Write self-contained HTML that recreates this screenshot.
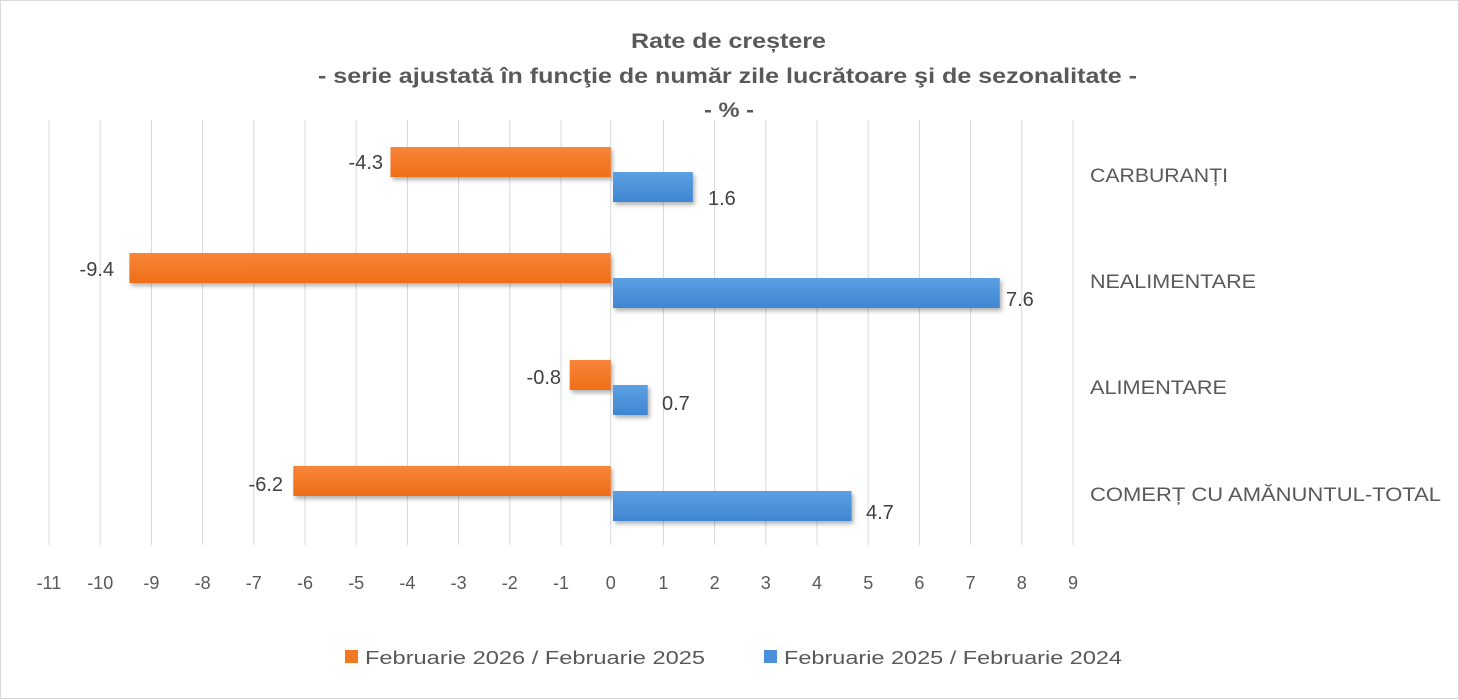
<!DOCTYPE html>
<html><head><meta charset="utf-8"><style>
html,body{margin:0;padding:0;background:#fff;}
svg{display:block;font-family:"Liberation Sans",sans-serif;}
</style></head><body>
<svg width="1459" height="700" viewBox="0 0 1459 700" xmlns="http://www.w3.org/2000/svg">
<defs>
<linearGradient id="og" x1="0" y1="0" x2="0" y2="1"><stop offset="0" stop-color="#F8853A"/><stop offset="1" stop-color="#EE6E16"/></linearGradient>
<linearGradient id="bg" x1="0" y1="0" x2="0" y2="1"><stop offset="0" stop-color="#5BA0E2"/><stop offset="1" stop-color="#3F86D2"/></linearGradient>
<filter id="sh" x="-5%" y="-30%" width="110%" height="170%"><feDropShadow dx="2" dy="3" stdDeviation="2" flood-color="#000" flood-opacity="0.3"/></filter>
</defs>
<rect x="0" y="0" width="1459" height="700" fill="#fff"/>
<rect x="0.5" y="0.5" width="1458" height="698" fill="none" stroke="#d9d9d9"/>
<g font-weight="bold" fill="#595959" font-size="21">
<text x="631" y="48" textLength="195" lengthAdjust="spacingAndGlyphs">Rate de creștere</text>
<text x="318" y="83" textLength="819" lengthAdjust="spacingAndGlyphs">- serie ajustată în funcţie de număr zile lucrătoare şi de sezonalitate -</text>
<text x="704" y="117" textLength="50" lengthAdjust="spacingAndGlyphs">- % -</text>
</g>
<g stroke="#d9d9d9" stroke-width="1">
<line x1="49" y1="120" x2="49" y2="545"/><line x1="100.2" y1="120" x2="100.2" y2="545"/><line x1="151.4" y1="120" x2="151.4" y2="545"/><line x1="202.6" y1="120" x2="202.6" y2="545"/><line x1="253.8" y1="120" x2="253.8" y2="545"/><line x1="305" y1="120" x2="305" y2="545"/><line x1="356.2" y1="120" x2="356.2" y2="545"/><line x1="407.4" y1="120" x2="407.4" y2="545"/><line x1="458.6" y1="120" x2="458.6" y2="545"/><line x1="509.8" y1="120" x2="509.8" y2="545"/><line x1="561" y1="120" x2="561" y2="545"/><line x1="610.7" y1="120" x2="610.7" y2="545"/><line x1="663.4" y1="120" x2="663.4" y2="545"/><line x1="714.6" y1="120" x2="714.6" y2="545"/><line x1="765.8" y1="120" x2="765.8" y2="545"/><line x1="817" y1="120" x2="817" y2="545"/><line x1="868.2" y1="120" x2="868.2" y2="545"/><line x1="919.4" y1="120" x2="919.4" y2="545"/><line x1="970.6" y1="120" x2="970.6" y2="545"/><line x1="1021.8" y1="120" x2="1021.8" y2="545"/><line x1="1073" y1="120" x2="1073" y2="545"/>
</g>
<g filter="url(#sh)">
<rect x="390.5" y="147" width="220.2" height="30" fill="url(#og)"/>
<rect x="613" y="172" width="79.9" height="30" fill="url(#bg)"/>
<rect x="129.4" y="253" width="481.3" height="30" fill="url(#og)"/>
<rect x="613" y="278" width="386.8" height="30" fill="url(#bg)"/>
<rect x="569.7" y="360" width="41" height="30" fill="url(#og)"/>
<rect x="613" y="385" width="34.8" height="30" fill="url(#bg)"/>
<rect x="293.3" y="466" width="317.4" height="30" fill="url(#og)"/>
<rect x="613" y="491" width="238.6" height="30" fill="url(#bg)"/>
</g>
<g fill="#404040" font-size="20">
<text x="383" y="169" text-anchor="end">-4.3</text>
<text x="708" y="205">1.6</text>
<text x="114" y="276" text-anchor="end">-9.4</text>
<text x="1006" y="306">7.6</text>
<text x="561" y="384" text-anchor="end">-0.8</text>
<text x="662" y="410">0.7</text>
<text x="283" y="491" text-anchor="end">-6.2</text>
<text x="866" y="519">4.7</text>
</g>
<g fill="#595959" font-size="19">
<text x="1090" y="182" textLength="138" lengthAdjust="spacingAndGlyphs">CARBURANȚI</text>
<text x="1090" y="288" textLength="166" lengthAdjust="spacingAndGlyphs">NEALIMENTARE</text>
<text x="1090" y="394" textLength="137" lengthAdjust="spacingAndGlyphs">ALIMENTARE</text>
<text x="1090" y="501" textLength="351" lengthAdjust="spacingAndGlyphs">COMERȚ CU AMĂNUNTUL-TOTAL</text>
</g>
<g fill="#595959" font-size="18" text-anchor="middle">
<text x="49" y="589">-11</text><text x="100.2" y="589">-10</text><text x="151.4" y="589">-9</text><text x="202.6" y="589">-8</text><text x="253.8" y="589">-7</text><text x="305" y="589">-6</text><text x="356.2" y="589">-5</text><text x="407.4" y="589">-4</text><text x="458.6" y="589">-3</text><text x="509.8" y="589">-2</text><text x="561" y="589">-1</text><text x="610.7" y="589">0</text><text x="663.4" y="589">1</text><text x="714.6" y="589">2</text><text x="765.8" y="589">3</text><text x="817" y="589">4</text><text x="868.2" y="589">5</text><text x="919.4" y="589">6</text><text x="970.6" y="589">7</text><text x="1021.8" y="589">8</text><text x="1073" y="589">9</text>
</g>
<rect x="345" y="650" width="13" height="13" fill="#F07820"/>
<text x="365" y="664" fill="#595959" font-size="18" textLength="340" lengthAdjust="spacingAndGlyphs">Februarie 2026 / Februarie 2025</text>
<rect x="764" y="650" width="13" height="13" fill="#4A90DA"/>
<text x="784" y="664" fill="#595959" font-size="18" textLength="338" lengthAdjust="spacingAndGlyphs">Februarie 2025 / Februarie 2024</text>
</svg>
</body></html>
